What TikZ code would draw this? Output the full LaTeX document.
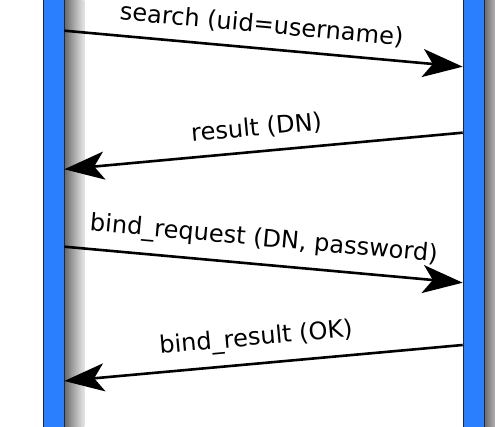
\documentclass[tikz,border=0pt]{standalone}
\usepackage{fontspec}
\setmainfont{DejaVu Sans}
\usetikzlibrary{arrows.meta}
\definecolor{barblue}{RGB}{42,127,255}
\pgfdeclarehorizontalshading{shadowfade}{100bp}{color(0bp)=(black!82); color(20bp)=(black!65); color(45bp)=(black!38); color(70bp)=(black!14); color(100bp)=(white)}
\tikzset{
  lifeline/.style={draw=black!85, line width=0.8pt, fill=barblue},
  barshadow/.style={shading=shadowfade, draw=none},
  msg/.style={line width=2.6pt, -{Stealth[length=40pt, width=28pt, inset=10pt]}},
  msglabel/.style={sloped, above=11.4pt, inner sep=0pt, font=\fontsize{24.1pt}{29pt}\selectfont}
}
\begin{document}
\begin{tikzpicture}[x=1pt,y=1pt]
\useasboundingbox (0,0) rectangle (495,427);
\clip (0,0) rectangle (495,427);
% shadows
\path[barshadow] (64.3,-5) rectangle (84.3,432);
\path[barshadow] (484,-5) rectangle (504,432);
% lifelines
\node[lifeline, minimum width=21.3pt, minimum height=440pt, inner sep=0pt, anchor=south west] (L) at (43,-6) {};
\node[lifeline, minimum width=21.3pt, minimum height=440pt, inner sep=0pt, anchor=south west] (R) at (462.7,-6) {};
% end points
\coordinate (a1) at (64.3,396.3);
\coordinate (b1) at (462.7,360.3);
\coordinate (a2) at (462.7,294.3);
\coordinate (b2) at (64.3,257.7);
\coordinate (a3) at (64.3,180.3);
\coordinate (b3) at (462.7,144.3);
\coordinate (a4) at (462.7,82);
\coordinate (b4) at (64.3,46);
% messages
\draw[msg] (a1) -- node[msglabel, pos=0.49] (t1) {search (uid=username)} (b1);
\draw[msg] (a2) -- node[msglabel, pos=0.512] (t2) {result (DN)} (b2);
\draw[msg] (a3) -- node[msglabel, pos=0.495] (t3) {bind\_request (DN, password)} (b3);
\draw[msg] (a4) -- node[msglabel, pos=0.513] (t4) {bind\_result (OK)} (b4);
\end{tikzpicture}
\end{document}
